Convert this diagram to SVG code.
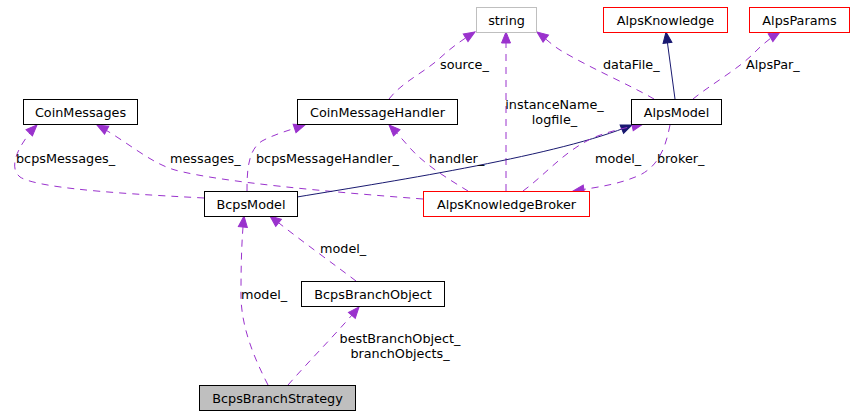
<svg xmlns="http://www.w3.org/2000/svg" width="853" height="415" viewBox="0 0 853 415">
<style>
text { font-family: "DejaVu Sans", "Liberation Sans", sans-serif; font-size: 12.8px; fill: #000; }
.n rect { fill: #fff; stroke: #000; stroke-width: 1; }
.n text { text-anchor: middle; }
.red rect { stroke: #ff0000; }
.gray rect { stroke: #bfbfbf; }
.cur rect { fill: #bfbfbf; }
.use { fill: none; stroke: #9a32cd; stroke-width: 1; stroke-dasharray: 7,6; marker-end: url(#ap); }
.inh { fill: none; stroke: #191970; stroke-width: 1; marker-end: url(#an); }
.c { text-anchor: middle; }
</style>
<defs>
<marker id="ap" markerUnits="userSpaceOnUse" markerWidth="12" markerHeight="10" refX="11" refY="4.5" orient="auto" overflow="visible">
<path d="M0,0 L11,4.5 L0,9 z" fill="#9a32cd" stroke="#9a32cd" stroke-width="1"/>
</marker>
<marker id="an" markerUnits="userSpaceOnUse" markerWidth="12" markerHeight="10" refX="11" refY="4.5" orient="auto" overflow="visible">
<path d="M0,0 L11,4.5 L0,9 z" fill="#191970" stroke="#191970" stroke-width="1"/>
</marker>
</defs>
<rect width="853" height="415" fill="#fff"/>
<g id="edges">
<path class="use" d="M204,198 C150,195 40,190 20,177 C5,165 25,137 37,125"/>
<path class="use" d="M423,199 C330,192 220,182 175,170 C150,163 125,140 97,125"/>
<path class="use" d="M247,191 C247,170 248,150 262,141 C275,134 290,130 305,125"/>
<path class="use" d="M468,191 C450,180 425,165 410,148 C403,140 396,132 389,125"/>
<path class="use" d="M506,191 L506,32"/>
<path class="use" d="M389,99 C402,82 425,72 440,58 C452,47 462,40 475,32"/>
<path class="use" d="M654,99 C630,85 590,68 560,50 C552,45 545,38 537,32"/>
<path class="inh" d="M675,99 L666,32"/>
<path class="use" d="M693,99 C710,85 740,68 755,52 C762,45 770,38 780,32"/>
<path class="inh" d="M297,197 C400,180 560,155 632,125"/>
<path class="use" d="M523,191 C545,175 565,150 595,137 C610,131 625,128 643,124"/>
<path class="use" d="M670,125 C666,145 660,165 640,175 C620,184 600,187 573,191"/>
<path class="use" d="M268,385 C250,350 240,320 241,290 C241,260 242,235 244,216"/>
<path class="use" d="M356,281 C335,265 300,240 270,216"/>
<path class="use" d="M288,385 C310,360 335,335 359,307"/>
<text x="16" y="163">bcpsMessages_</text>
<text x="170" y="163">messages_</text>
<text x="256" y="163">bcpsMessageHandler_</text>
<text x="429" y="163">handler_</text>
<text x="595" y="163">model_</text>
<text x="657" y="163">broker_</text>
<text x="440" y="69">source_</text>
<text x="603" y="69">dataFile_</text>
<text x="746" y="69">AlpsPar_</text>
<text class="c" x="554.5" y="109">instanceName_</text>
<text class="c" x="554.5" y="124">logfile_</text>
<text x="320" y="253">model_</text>
<text x="241" y="299">model_</text>
<text class="c" x="400" y="343">bestBranchObject_</text>
<text class="c" x="400" y="358">branchObjects_</text>
</g>
<g id="string" class="n gray"><rect x="476.5" y="7.5" width="60" height="25"/><text x="506.5" y="25">string</text></g>
<g id="AlpsKnowledge" class="n red"><rect x="603.5" y="7.5" width="124" height="25"/><text x="665.5" y="25">AlpsKnowledge</text></g>
<g id="AlpsParams" class="n red"><rect x="749.5" y="7.5" width="100" height="25"/><text x="799.5" y="25">AlpsParams</text></g>
<g id="CoinMessages" class="n"><rect x="23.5" y="99.5" width="114" height="25"/><text x="80.5" y="117">CoinMessages</text></g>
<g id="CoinMessageHandler" class="n"><rect x="297.5" y="99.5" width="160" height="25"/><text x="377.5" y="117">CoinMessageHandler</text></g>
<g id="AlpsModel" class="n"><rect x="631.5" y="99.5" width="90" height="25"/><text x="676.5" y="117">AlpsModel</text></g>
<g id="BcpsModel" class="n"><rect x="204.5" y="191.5" width="93" height="25"/><text x="251" y="209">BcpsModel</text></g>
<g id="AlpsKnowledgeBroker" class="n red"><rect x="423.5" y="191.5" width="166" height="25"/><text x="506.5" y="209">AlpsKnowledgeBroker</text></g>
<g id="BcpsBranchObject" class="n"><rect x="301.5" y="281.5" width="143" height="25"/><text x="373" y="299">BcpsBranchObject</text></g>
<g id="BcpsBranchStrategy" class="n cur"><rect x="199.5" y="385.5" width="156" height="25"/><text x="277.5" y="403">BcpsBranchStrategy</text></g>
</svg>
